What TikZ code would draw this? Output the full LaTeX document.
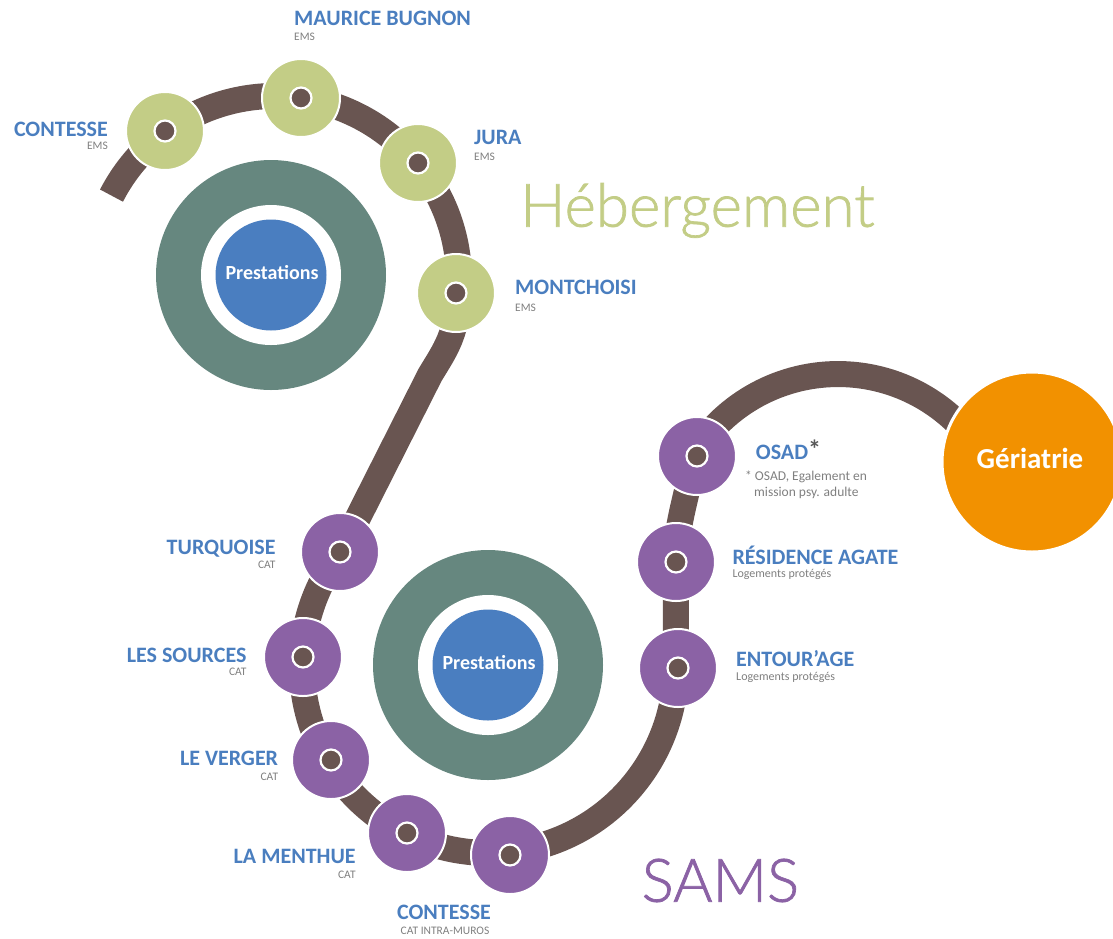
\documentclass[tikz,border=0pt]{standalone}
\usepackage{fontspec}
\setmainfont{Carlito}
\newfontfamily\lightfont{Lato Light}[FakeBold=1.2]
\usetikzlibrary{calc}
\definecolor{ctrack}{HTML}{695551}
\definecolor{cgreen}{HTML}{C3CD86}
\definecolor{cpurple}{HTML}{8B62A5}
\definecolor{cteal}{HTML}{66877F}
\definecolor{cblue}{HTML}{4A7EC0}
\definecolor{corange}{HTML}{F29100}
\definecolor{clabel}{HTML}{4A7EBF}
\definecolor{cgray}{HTML}{7F7F7F}
\definecolor{cdgray}{HTML}{595959}
\begin{document}
\begin{tikzpicture}[x=1pt,y=-1pt,
  station/.style={circle, draw=white, line width=2pt, minimum size=78pt, inner sep=0pt},
  gstation/.style={station, fill=cgreen},
  pstation/.style={station, fill=cpurple},
  hub/.style={circle, fill=ctrack, draw=white, line width=2.2pt, minimum size=21pt, inner sep=0pt},
  lbl/.style={font=\fontsize{22}{24}\selectfont\bfseries, text=clabel, inner sep=0pt},
  sublbl/.style={font=\fontsize{11.5}{13}\selectfont, text=cgray, inner sep=0pt},
  loglbl/.style={font=\fontsize{12}{14}\selectfont, text=cgray, inner sep=0pt},
  notelbl/.style={font=\fontsize{13.5}{16}\selectfont, text=cgray, inner sep=0pt},
  tracklink/.style={draw=ctrack, line width=26pt, line join=round},
  ring/.style={circle, fill=cteal, minimum size=230pt, inner sep=0pt},
  ringgap/.style={circle, fill=white, minimum size=140pt, inner sep=0pt},
  hubblue/.style={circle, fill=cblue, minimum size=111pt, inner sep=0pt},
  prest/.style={font=\fontsize{20}{22}\selectfont\bfseries, text=white, inner sep=0pt},
  bigtitle/.style={font=\lightfont\fontsize{60}{62}\selectfont, inner sep=0pt},
]
\useasboundingbox (0,0) rectangle (1113,938);
\clip (0,0) rectangle (1113,938);

% track
\path[tracklink] (111.5,195.6) arc[start angle=207.3, end angle=364, radius=184]
  .. controls (457,335) and (445,350) .. (430,375) -- (340.4,552.4)
  arc[start angle=217.4, end angle=0.3, radius=187]
  -- (676,562) .. controls (676,520) and (690,490) .. (693.4,454.7)
  arc[start angle=211.7, end angle=322, radius=170];

% central rings
\node[ring] (ring1) at (271,275) {};
\node[ringgap] (gap1) at (ring1) {};
\node[hubblue] (blue1) at (ring1) {};
\node[prest, anchor=base] (prest1) at (272,279.3) {Prestations};

\node[ring] (ring2) at (488,665) {};
\node[ringgap] (gap2) at (ring2) {};
\node[hubblue] (blue2) at (ring2) {};
\node[prest, anchor=base] (prest2) at (489,669) {Prestations};

% Geriatrie
\node[circle, fill=corange, draw=white, line width=3pt, minimum size=180pt, inner sep=0pt] (geri) at (1032,462) {};
\node[font=\fontsize{29}{31}\selectfont\bfseries, text=white, inner sep=0pt, anchor=base] (geritext) at (1030,468.3) {Gériatrie};

% green stations
\node[gstation] (c1) at (165,131) {};
\node[hub] (c1h) at (c1) {};
\node[gstation] (mb) at (301,98) {};
\node[hub] (mbh) at (mb) {};
\node[gstation] (jura) at (418,163) {};
\node[hub] (jurah) at (jura) {};
\node[gstation] (mont) at (456,293) {};
\node[hub] (month) at (mont) {};

% purple stations
\node[pstation] (turq) at (340,552) {};
\node[hub] (turqh) at (turq) {};
\node[pstation] (sources) at (303,657) {};
\node[hub] (sourcesh) at (sources) {};
\node[pstation] (verger) at (331,760) {};
\node[hub] (vergerh) at (verger) {};
\node[pstation] (menthue) at (407,833) {};
\node[hub] (menthueh) at (menthue) {};
\node[pstation] (c2) at (510,855) {};
\node[hub] (c2h) at (c2) {};
\node[pstation] (entour) at (678,668) {};
\node[hub] (entourh) at (entour) {};
\node[pstation] (agate) at (676,562) {};
\node[hub] (agateh) at (agate) {};
\node[pstation] (osad) at (697,456) {};
\node[hub] (osadh) at (osad) {};

% labels upper
\node[lbl, anchor=base east] (lc1) at (108,136) {CONTESSE};
\node[sublbl, anchor=base east] (sc1) at (108,149) {EMS};
\node[lbl, anchor=base west] (lmb) at (294,25.7) {MAURICE BUGNON};
\node[sublbl, anchor=base west] (smb) at (294,40) {EMS};
\node[lbl, anchor=base west] (ljura) at (474,144) {JURA};
\node[sublbl, anchor=base west] (sjura) at (474,160.7) {EMS};
\node[lbl, anchor=base west] (lmont) at (515,294.3) {MONTCHOISI};
\node[sublbl, anchor=base west] (smont) at (515,311.7) {EMS};
\node[bigtitle, text=cgreen, anchor=base west] (heb) at (520,226.7) {Hébergement};

% labels lower
\node[lbl, anchor=base east] (lturq) at (275.7,554.3) {TURQUOISE};
\node[sublbl, anchor=base east] (sturq) at (275.7,568.3) {CAT};
\node[lbl, anchor=base east] (lsources) at (246.7,662.3) {LES SOURCES};
\node[sublbl, anchor=base east] (ssources) at (246.7,675.7) {CAT};
\node[lbl, anchor=base east] (lverger) at (278.3,765.7) {LE VERGER};
\node[sublbl, anchor=base east] (sverger) at (278.3,780) {CAT};
\node[lbl, anchor=base east] (lmenthue) at (355.8,863.3) {LA MENTHUE};
\node[sublbl, anchor=base east] (smenthue) at (355.8,878.3) {CAT};
\node[lbl, anchor=base] (lc2) at (444,919.3) {CONTESSE};
\node[sublbl, anchor=base] (sc2) at (445,934) {CAT INTRA-MUROS};
\node[bigtitle, text=cpurple, anchor=base west] (sams) at (641.5,901.7) {SAMS};

\node[lbl, anchor=base west] (losad) at (755.7,459) {OSAD\textcolor{cdgray}{\raisebox{1pt}{\fontsize{26}{26}\selectfont *}}};
\node[notelbl, anchor=base west] (nosad1) at (745,480) {* OSAD, Egalement en};
\node[notelbl, anchor=base west] (nosad2) at (754,496.7) {mission psy. adulte};
\node[lbl, anchor=base west] (lagate) at (732.3,564) {RÉSIDENCE AGATE};
\node[loglbl, anchor=base west] (sagate) at (732.3,577.7) {Logements protégés};
\node[lbl, anchor=base west] (lentour) at (736,666) {ENTOUR’AGE};
\node[loglbl, anchor=base west] (sentour) at (736,680) {Logements protégés};
\end{tikzpicture}
\end{document}
